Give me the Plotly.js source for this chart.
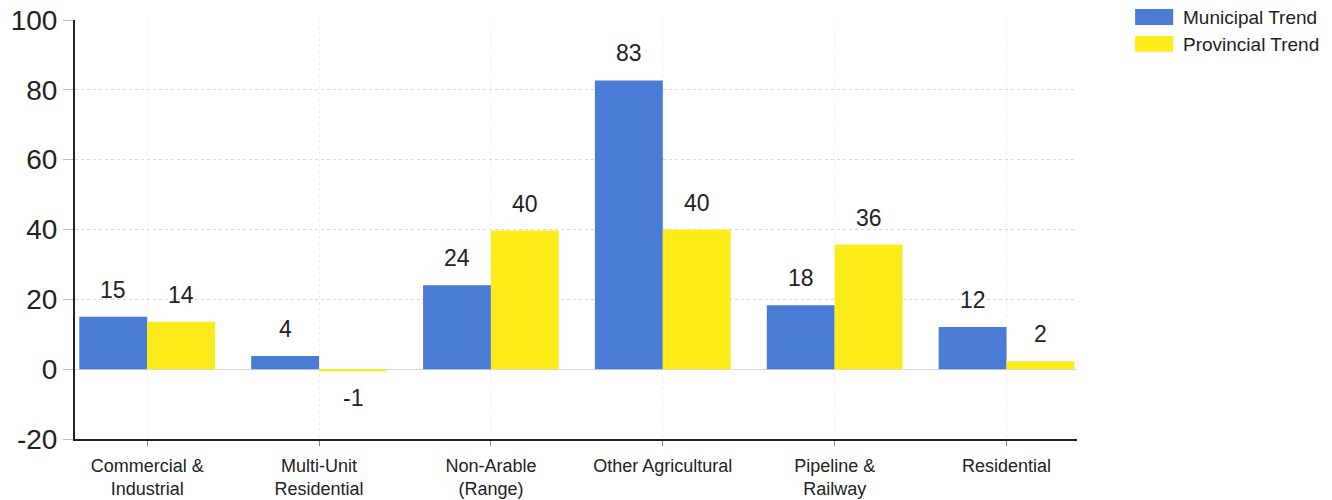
<!DOCTYPE html>
<html><head><meta charset="utf-8">
<script src="https://cdn.plot.ly/plotly-3.0.1.min.js"></script>
<style>html,body{margin:0;padding:0;background:#fff}#chart{width:1332px;height:500px}</style>
</head><body><div id="chart"></div>
<script>
const categories = ["Commercial &<br>Industrial","Multi-Unit<br>Residential","Non-Arable<br>(Range)","Other Agricultural","Pipeline &<br>Railway","Residential"];
const seriesNames = ["Municipal Trend","Provincial Trend"];
const municipal = [15, 3.8, 24, 82.7, 18.3, 12.1];
const provincial = [13.6, -0.6, 39.7, 40, 35.7, 2.3];
const yTicks = [-20, 0, 20, 40, 60, 80, 100];
const yTickLabels = ["-20", "0", "20", "40", "60", "80", "100"];
const colors = ["#4a7cd6", "#fdec1a"];

const font = "Liberation Sans, Arial, sans-serif";
const bargap = 0.21;
const barW = (1 - bargap) / 2;
const idx = categories.map((c, i) => i);

const traces = [municipal, provincial].map((vals, s) => ({
  type: "bar", x: idx, y: vals, name: seriesNames[s],
  marker: {color: colors[s], line: {width: 0}},
  showlegend: false, hoverinfo: "none"
}));

const annotations = [];
[municipal, provincial].forEach((vals, s) => {
  const off = (s - 0.5) * barW;
  vals.forEach((v, i) => {
    annotations.push({
      x: i + off, y: v, xref: "x", yref: "y", showarrow: false,
      text: String(Math.round(v) === 0 && v < 0 ? -1 : Math.round(v)),
      yshift: v >= 0 ? 27 : -27,
      font: {family: font, size: 23, color: "#222"}
    });
  });
});
// legend
const legTop = [1.026, 0.962];
seriesNames.forEach((n, s) => {
  annotations.push({
    x: 1.1035, y: legTop[s] - 0.02, xref: "paper", yref: "paper", xanchor: "left", yanchor: "middle",
    showarrow: false, text: n, font: {family: font, size: 19, color: "#222"}
  });
});
const shapes = seriesNames.map((n, s) => ({
  type: "rect", xref: "paper", yref: "paper",
  x0: 1.058, x1: 1.096, y0: legTop[s] - 0.038, y1: legTop[s],
  fillcolor: colors[s], line: {width: 0}
}));

const layout = {
  width: 1332, height: 500,
  margin: {l: 75, r: 255, t: 20, b: 61},
  paper_bgcolor: "#fff", plot_bgcolor: "#fff",
  barmode: "group", bargap: bargap, bargroupgap: 0,
  xaxis: {
    range: [-0.42, 5.41], tickvals: idx, ticktext: categories,
    showline: true, linecolor: "#222", linewidth: 2,
    ticks: "outside", ticklen: 5, tickcolor: "#888",
    showgrid: true, gridcolor: "#eeeeee", griddash: "dot", gridwidth: 1,
    zeroline: false, ticklabelstandoff: 4,
    tickfont: {family: font, size: 18, color: "#222"}
  },
  yaxis: {
    range: [-20, 100], tickvals: yTicks, ticktext: yTickLabels,
    showline: true, linecolor: "#222", linewidth: 2,
    ticks: "outside", ticklen: 10, tickcolor: "#bbb",
    showgrid: true, gridcolor: "#d8d8d8", griddash: "dot", gridwidth: 1,
    zeroline: true, zerolinecolor: "#d8d8d8", zerolinewidth: 1,
    tickfont: {family: font, size: 28, color: "#222"}
  },
  annotations: annotations, shapes: shapes
};
Plotly.newPlot("chart", traces, layout, {displayModeBar: false, staticPlot: true});
</script></body></html>
